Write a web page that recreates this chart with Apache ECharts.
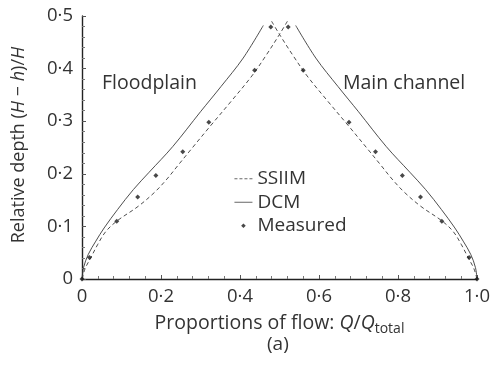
<!DOCTYPE html>
<html>
<head>
<meta charset="utf-8">
<script src="https://cdn.jsdelivr.net/npm/echarts@6/dist/echarts.min.js"></script>
<style>
  html, body { margin: 0; padding: 0; background: #fff; }
  #chart { width: 494px; height: 365px; }
</style>
</head>
<body>
<div id="chart"></div>
<script>
// Relative depth vs. proportion of flow, floodplain (left) and main channel (right)
const xTicks = [0, 0.2, 0.4, 0.6, 0.8, 1.0];
const yTicks = [0, 0.1, 0.2, 0.3, 0.4, 0.5];

// Measured data
const measuredX = [0, 0.019, 0.088, 0.141, 0.187, 0.255, 0.321, 0.437, 0.478,
                   0.522, 0.560, 0.676, 0.743, 0.811, 0.857, 0.911, 0.980, 1.0];
const measuredY = [0, 0.041, 0.110, 0.156, 0.197, 0.242, 0.298, 0.397, 0.479,
                   0.479, 0.397, 0.298, 0.242, 0.197, 0.156, 0.110, 0.041, 0];

// DCM, floodplain branch
const dcmFpX = [0, 0.004, 0.016, 0.035, 0.056, 0.09, 0.13, 0.17, 0.23, 0.30, 0.352, 0.408, 0.459];
const dcmFpY = [0, 0.022, 0.047, 0.072, 0.097, 0.132, 0.170, 0.203, 0.252, 0.318, 0.366, 0.420, 0.482];
// DCM, main channel branch
const dcmMcX = [0.541, 0.592, 0.648, 0.70, 0.77, 0.83, 0.87, 0.91, 0.944, 0.965, 0.984, 0.996, 1.0];
const dcmMcY = [0.482, 0.420, 0.366, 0.318, 0.252, 0.203, 0.170, 0.132, 0.097, 0.072, 0.047, 0.022, 0];

// SSIIM, floodplain branch
const ssiimFpX = [0, 0.008, 0.022, 0.04, 0.06, 0.088, 0.142, 0.184, 0.215, 0.243, 0.28, 0.324, 0.38, 0.43, 0.465, 0.50, 0.52];
const ssiimFpY = [0, 0.020, 0.040, 0.066, 0.090, 0.110, 0.138, 0.165, 0.190, 0.216, 0.250, 0.290, 0.340, 0.386, 0.424, 0.465, 0.490];
// SSIIM, main channel branch
const ssiimMcX = [0.48, 0.50, 0.535, 0.57, 0.62, 0.676, 0.72, 0.757, 0.785, 0.816, 0.858, 0.912, 0.94, 0.96, 0.978, 0.992, 1.0];
const ssiimMcY = [0.490, 0.465, 0.424, 0.386, 0.340, 0.290, 0.250, 0.216, 0.190, 0.165, 0.138, 0.110, 0.090, 0.066, 0.040, 0.020, 0];

const zip = (xs, ys) => xs.map((x, i) => [x, ys[i]]);
const fmt = v => {
  const s = Math.abs(v) < 1e-9 ? '0' : v.toFixed(1);
  return s.replace('.', '·');
};

const FONT = '"Open Sans", "Noto Sans", sans-serif';
const INK = '#333';
const LINE = '#3a3a3a';

// small diamond centred in an 18x5 legend box (tiny corner anchors fix the box size)
const DIAMOND_ICON = 'path://M0,0h0.05v0.05h-0.05z M18,5h-0.05v-0.05h0.05z M9,0.2 L11.3,2.5 L9,4.8 L6.7,2.5Z';

const chart = echarts.init(document.getElementById('chart'), null, { renderer: 'canvas' });

const lineSeries = (name, data, dashed) => ({
  name, type: 'line', data,
  smooth: 0.35, symbol: 'none', showSymbol: false,
  lineStyle: { color: LINE, width: 0.9, type: dashed ? [4, 3] : 'solid' },
  itemStyle: { color: LINE },
  emphasis: { disabled: true },
  z: 2
});

chart.setOption({
  animation: false,
  backgroundColor: '#fff',
  textStyle: { fontFamily: FONT },
  grid: { left: 82, right: 17, top: 16, bottom: 86, containLabel: false },
  xAxis: {
    type: 'value', min: xTicks[0], max: xTicks[xTicks.length - 1], interval: 0.2,
    axisLine: { show: true, onZero: false, lineStyle: { color: '#222', width: 1.4 } },
    axisTick: { show: true, inside: true, length: 4, lineStyle: { color: '#555', width: 1 } },
    minorTick: { show: true, splitNumber: 5, length: 3, lineStyle: { color: '#777', width: 1 } },
    splitLine: { show: false },
    axisLabel: { formatter: fmt, color: INK, fontSize: 18.5, fontFamily: FONT, margin: 8 },
    name: '{t|Proportions of flow: }{i|Q}{t|/}{i|Q}{s|total}',
    nameLocation: 'middle', nameGap: 31,
    nameTextStyle: {
      rich: {
        t: { fontSize: 19.5, color: INK, fontFamily: FONT, lineHeight: 26, verticalAlign: 'middle' },
        i: { fontSize: 19.5, color: INK, fontFamily: FONT, fontStyle: 'italic', lineHeight: 26, verticalAlign: 'middle' },
        s: { fontSize: 14, color: INK, fontFamily: FONT, lineHeight: 26, verticalAlign: 'bottom' }
      }
    }
  },
  yAxis: {
    type: 'value', min: yTicks[0], max: yTicks[yTicks.length - 1], interval: 0.1,
    axisLine: { show: true, onZero: false, lineStyle: { color: '#222', width: 1.4 } },
    axisTick: { show: true, inside: true, length: 4, lineStyle: { color: '#555', width: 1 } },
    minorTick: { show: true, splitNumber: 5, length: 3, lineStyle: { color: '#777', width: 1 } },
    splitLine: { show: false },
    axisLabel: { formatter: fmt, color: INK, fontSize: 18.5, fontFamily: FONT, margin: 9 }
  },
  legend: {
    orient: 'vertical', left: 229, top: 164,
    itemWidth: 18, itemHeight: 5, itemGap: 4,
    lineStyle: { width: 0.9, color: '#555' },
    textStyle: { color: INK, fontSize: 19, fontFamily: FONT, lineHeight: 19.5, padding: [0, 0, 0, 0] },
    data: [
      { name: 'SSIIM', itemStyle: { opacity: 0 }, lineStyle: { width: 0.9, type: [3, 2], color: '#555' } },
      { name: 'DCM', itemStyle: { opacity: 0 }, lineStyle: { width: 0.9, type: 'solid', color: '#555' } },
      { name: 'Measured', icon: DIAMOND_ICON }
    ],
    selectedMode: false
  },
  series: [
    lineSeries('SSIIM', zip(ssiimFpX, ssiimFpY), true),
    lineSeries('SSIIM', zip(ssiimMcX, ssiimMcY), true),
    lineSeries('DCM', zip(dcmFpX, dcmFpY), false),
    lineSeries('DCM', zip(dcmMcX, dcmMcY), false),
    {
      name: 'Measured', type: 'scatter', data: zip(measuredX, measuredY),
      symbol: 'diamond', symbolSize: 5,
      itemStyle: { color: '#1a1a1a' },
      emphasis: { disabled: true },
      z: 3
    }
  ],
  graphic: [
    {
      type: 'text', x: 19, y: 145, rotation: Math.PI / 2,
      style: {
        text: '{t|Relative depth (}{i|H}{t| − }{i|h}{t|)/}{i|H}',
        align: 'center', verticalAlign: 'middle',
        rich: {
          t: { fontSize: 18, fill: INK, fontFamily: FONT },
          i: { fontSize: 18, fill: INK, fontFamily: FONT, fontStyle: 'italic' }
        }
      }
    },
    { type: 'text', left: 102, top: 73, style: { text: 'Floodplain', fill: INK, font: '19.5px ' + FONT } },
    { type: 'text', left: 343, top: 73, style: { text: 'Main channel', fill: INK, font: '19.5px ' + FONT } },
    { type: 'text', left: 267, top: 335, style: { text: '(a)', fill: INK, font: '19px ' + FONT } }
  ]
});
</script>
</body>
</html>
